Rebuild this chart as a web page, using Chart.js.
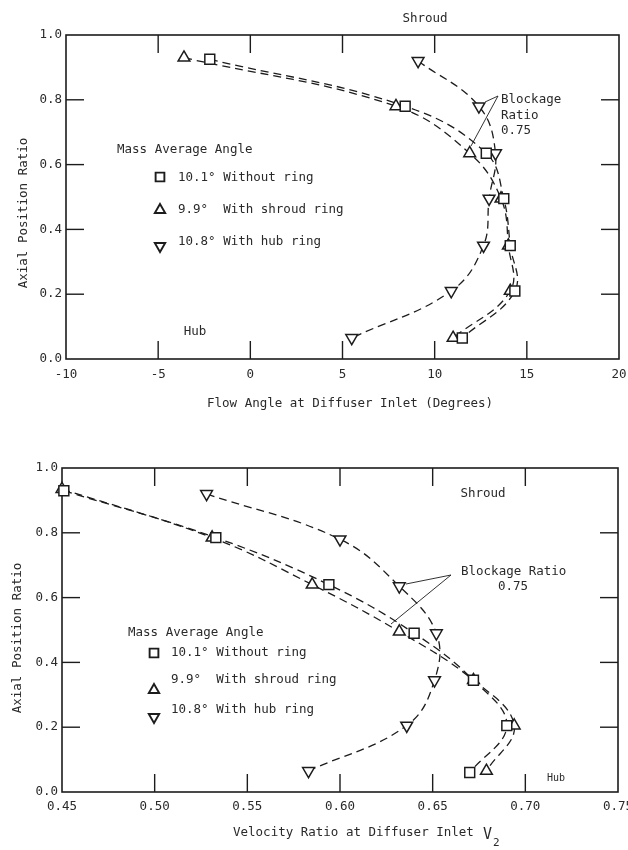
<!DOCTYPE html>
<html>
<head>
<meta charset="utf-8">
<title>Diffuser inlet flow angle and velocity ratio</title>
<style>
  html, body { margin: 0; padding: 0; background: #fff; }
  canvas { display: block; }
</style>
</head>
<body>
<canvas id="angleChart" width="628" height="420"></canvas>
<canvas id="velocityChart" width="628" height="430"></canvas>
<script src="https://cdn.jsdelivr.net/npm/chart.js@4.4.1/dist/chart.umd.min.js"></script>
<script>
// tick values of the axes
const angleTicks = [-10, -5, 0, 5, 10, 15, 20];
const velocityTicks = [0.45, 0.50, 0.55, 0.60, 0.65, 0.70, 0.75];
const axialTicks = [0.0, 0.2, 0.4, 0.6, 0.8, 1.0];

// series names (legend)
const legendTitle = 'Mass Average Angle';
const seriesNames = ['10.1° Without ring', '9.9°  With shroud ring', '10.8° With hub ring'];

// top chart: flow angle at diffuser inlet (deg) against axial position
const angleNoRing = [-2.2, 8.4, 12.8, 13.75, 14.1, 14.35, 11.5];
const angleShroudRing = [-3.6, 7.9, 11.9, 13.6, 14.0, 14.1, 11.0];
const angleHubRing = [9.1, 12.4, 13.3, 12.95, 12.65, 10.9, 5.5];
const angleNoRingPos = [0.925, 0.78, 0.635, 0.495, 0.35, 0.21, 0.065];
const angleShroudPos = [0.93, 0.78, 0.635, 0.495, 0.35, 0.21, 0.065];
const angleHubPos = [0.92, 0.78, 0.635, 0.495, 0.35, 0.21, 0.065];

// bottom chart: velocity ratio at diffuser inlet against axial position
const velNoRing = [0.451, 0.533, 0.594, 0.640, 0.672, 0.690, 0.670];
const velShroudRing = [0.450, 0.531, 0.585, 0.632, 0.672, 0.694, 0.679];
const velHubRing = [0.528, 0.600, 0.632, 0.652, 0.651, 0.636, 0.583];
const velNoRingPos = [0.93, 0.785, 0.64, 0.49, 0.345, 0.205, 0.06];
const velShroudPos = [0.935, 0.785, 0.64, 0.495, 0.345, 0.205, 0.065];
const velHubPos = [0.92, 0.78, 0.635, 0.49, 0.345, 0.205, 0.065];

const INK = '#1c1c1c';
const TEXT = '#2a2a2a';
const FONT = '"DejaVu Sans Mono", monospace';

// marker look per series
const markers = [
  { pointStyle: 'rect', radius: 7, rotation: 0 },
  { pointStyle: 'triangle', radius: 6.8, rotation: 0 },
  { pointStyle: 'triangle', radius: 6.8, rotation: 180 },
];

function buildDatasets(xsList, ysList) {
  return xsList.map((xs, i) => ({
    label: seriesNames[i],
    data: xs.map((x, j) => ({ x, y: ysList[i][j] })),
    showLine: true,
    tension: 0.4,
    borderColor: INK,
    borderWidth: 1.3,
    borderDash: [8, 5],
    pointStyle: markers[i].pointStyle,
    pointRadius: markers[i].radius,
    pointRotation: markers[i].rotation,
    pointBackgroundColor: '#fff',
    pointBorderColor: INK,
    pointBorderWidth: 1.5,
    clip: false,
  }));
}

function axis(values, fmt, pad, fit) {
  return {
    type: 'linear',
    min: values[0],
    max: values[values.length - 1],
    afterBuildTicks: (s) => { s.ticks = values.map((v) => ({ value: v })); },
    afterFit: fit,
    grid: { display: false, drawTicks: false },
    border: { display: false },
    ticks: {
      callback: (v) => fmt(v),
      font: { family: FONT, size: 12.5 },
      color: TEXT,
      padding: pad,
      maxRotation: 0,
      autoSkip: false,
    },
  };
}

function text(ctx, str, x, y, opts = {}) {
  ctx.save();
  ctx.font = (opts.size || 12.5) + 'px ' + FONT;
  ctx.fillStyle = TEXT;
  ctx.textAlign = opts.align || 'left';
  ctx.textBaseline = 'middle';
  ctx.translate(x, y);
  if (opts.rotate) ctx.rotate(opts.rotate);
  ctx.fillText(str, 0, 0);
  ctx.restore();
}

function line(ctx, x1, y1, x2, y2) {
  ctx.beginPath();
  ctx.moveTo(x1, y1);
  ctx.lineTo(x2, y2);
  ctx.stroke();
}

function symbol(ctx, i, x, y) {
  ctx.save();
  ctx.fillStyle = '#fff';
  ctx.strokeStyle = INK;
  ctx.lineWidth = 1.9;
  Chart.helpers.drawPoint(ctx, {
    pointStyle: markers[i].pointStyle,
    radius: markers[i].radius - 0.8,
    rotation: markers[i].rotation,
    borderWidth: 1.9,
  }, x, y);
  ctx.restore();
}

function drawKey(ctx, key) {
  text(ctx, legendTitle, key.titleX, key.titleY);
  seriesNames.forEach((name, i) => {
    symbol(ctx, i, key.symX, key.symY[i]);
    text(ctx, name, key.textX, key.textY[i]);
  });
}

// box round the plot with ticks pointing inward
const framePlugin = {
  id: 'frame',
  beforeDatasetsDraw(chart) {
    const { ctx, chartArea: a, scales: { x, y } } = chart;
    const len = 18;
    ctx.save();
    ctx.strokeStyle = INK;
    ctx.lineWidth = 1.6;
    ctx.strokeRect(a.left, a.top, a.right - a.left, a.bottom - a.top);
    ctx.lineWidth = 1.4;
    x.ticks.forEach((t) => {
      const px = x.getPixelForValue(t.value);
      if (px < a.left + 2 || px > a.right - 2) return;
      line(ctx, px, a.top, px, a.top + len);
      line(ctx, px, a.bottom, px, a.bottom - len);
    });
    y.ticks.forEach((t) => {
      const py = y.getPixelForValue(t.value);
      if (py < a.top + 2 || py > a.bottom - 2) return;
      line(ctx, a.left, py, a.left + len, py);
      line(ctx, a.right, py, a.right - len, py);
    });
    ctx.restore();
  },
};

function makeChart(id, cfg) {
  return new Chart(document.getElementById(id), {
    type: 'scatter',
    data: { datasets: buildDatasets(cfg.xs, cfg.ys) },
    options: {
      responsive: false,
      animation: false,
      layout: { padding: cfg.padding },
      plugins: { legend: { display: false }, tooltip: { enabled: false } },
      scales: {
        x: axis(cfg.xTicks, cfg.xFmt, cfg.xPad, (s) => {
          s.height = cfg.xHeight; s.paddingLeft = 0; s.paddingRight = 0;
        }),
        y: axis(axialTicks, (v) => v.toFixed(1), 4, (s) => {
          s.width = cfg.yWidth; s.paddingTop = 0; s.paddingBottom = 0;
        }),
      },
    },
    plugins: [framePlugin, { id: 'notes', afterDraw: (chart) => cfg.notes(chart.ctx) }],
  });
}

// Flow angle chart
makeChart('angleChart', {
  xs: [angleNoRing, angleShroudRing, angleHubRing],
  ys: [angleNoRingPos, angleShroudPos, angleHubPos],
  xTicks: angleTicks,
  xFmt: (v) => String(v),
  xPad: 8,
  xHeight: 61,
  yWidth: 66,
  padding: { top: 35, right: 9, bottom: 0, left: 0 },
  notes(ctx) {
    text(ctx, 'Axial Position Ratio', 24, 213, { align: 'center', rotate: -Math.PI / 2 });
    text(ctx, 'Flow Angle at Diffuser Inlet (Degrees)', 350, 404, { align: 'center' });
    text(ctx, 'Shroud', 425, 19, { align: 'center' });
    text(ctx, 'Hub', 195, 332, { align: 'center' });
    text(ctx, 'Blockage', 501, 100);
    text(ctx, 'Ratio', 501, 116);
    text(ctx, '0.75', 501, 131);
    ctx.save();
    ctx.strokeStyle = INK;
    ctx.lineWidth = 0.9;
    line(ctx, 498, 96, 485, 102);
    line(ctx, 498, 96, 471, 146);
    ctx.restore();
    drawKey(ctx, {
      titleX: 117, titleY: 150,
      symX: 160, symY: [177, 210, 246],
      textX: 178, textY: [178, 210, 242],
    });
  },
});

// Velocity ratio chart
makeChart('velocityChart', {
  xs: [velNoRing, velShroudRing, velHubRing],
  ys: [velNoRingPos, velShroudPos, velHubPos],
  xTicks: velocityTicks,
  xFmt: (v) => v.toFixed(2),
  xPad: 7,
  xHeight: 58,
  yWidth: 62,
  padding: { top: 48, right: 10, bottom: 0, left: 0 },
  notes(ctx) {
    text(ctx, 'Axial Position Ratio', 18, 218, { align: 'center', rotate: -Math.PI / 2 });
    text(ctx, 'Velocity Ratio at Diffuser Inlet', 233, 413);
    text(ctx, 'V', 483, 415, { size: 15 });
    text(ctx, '2', 493, 423, { size: 11 });
    text(ctx, 'Shroud', 483, 74, { align: 'center' });
    text(ctx, 'Hub', 556, 358, { align: 'center', size: 10 });
    text(ctx, 'Blockage Ratio', 461, 152);
    text(ctx, '0.75', 513, 167, { align: 'center' });
    ctx.save();
    ctx.strokeStyle = INK;
    ctx.lineWidth = 0.9;
    line(ctx, 451, 155, 406, 164);
    line(ctx, 451, 155, 391, 204);
    ctx.restore();
    drawKey(ctx, {
      titleX: 128, titleY: 213,
      symX: 154, symY: [233, 270, 297],
      textX: 171, textY: [233, 260, 290],
    });
  },
});
</script>
</body>
</html>
